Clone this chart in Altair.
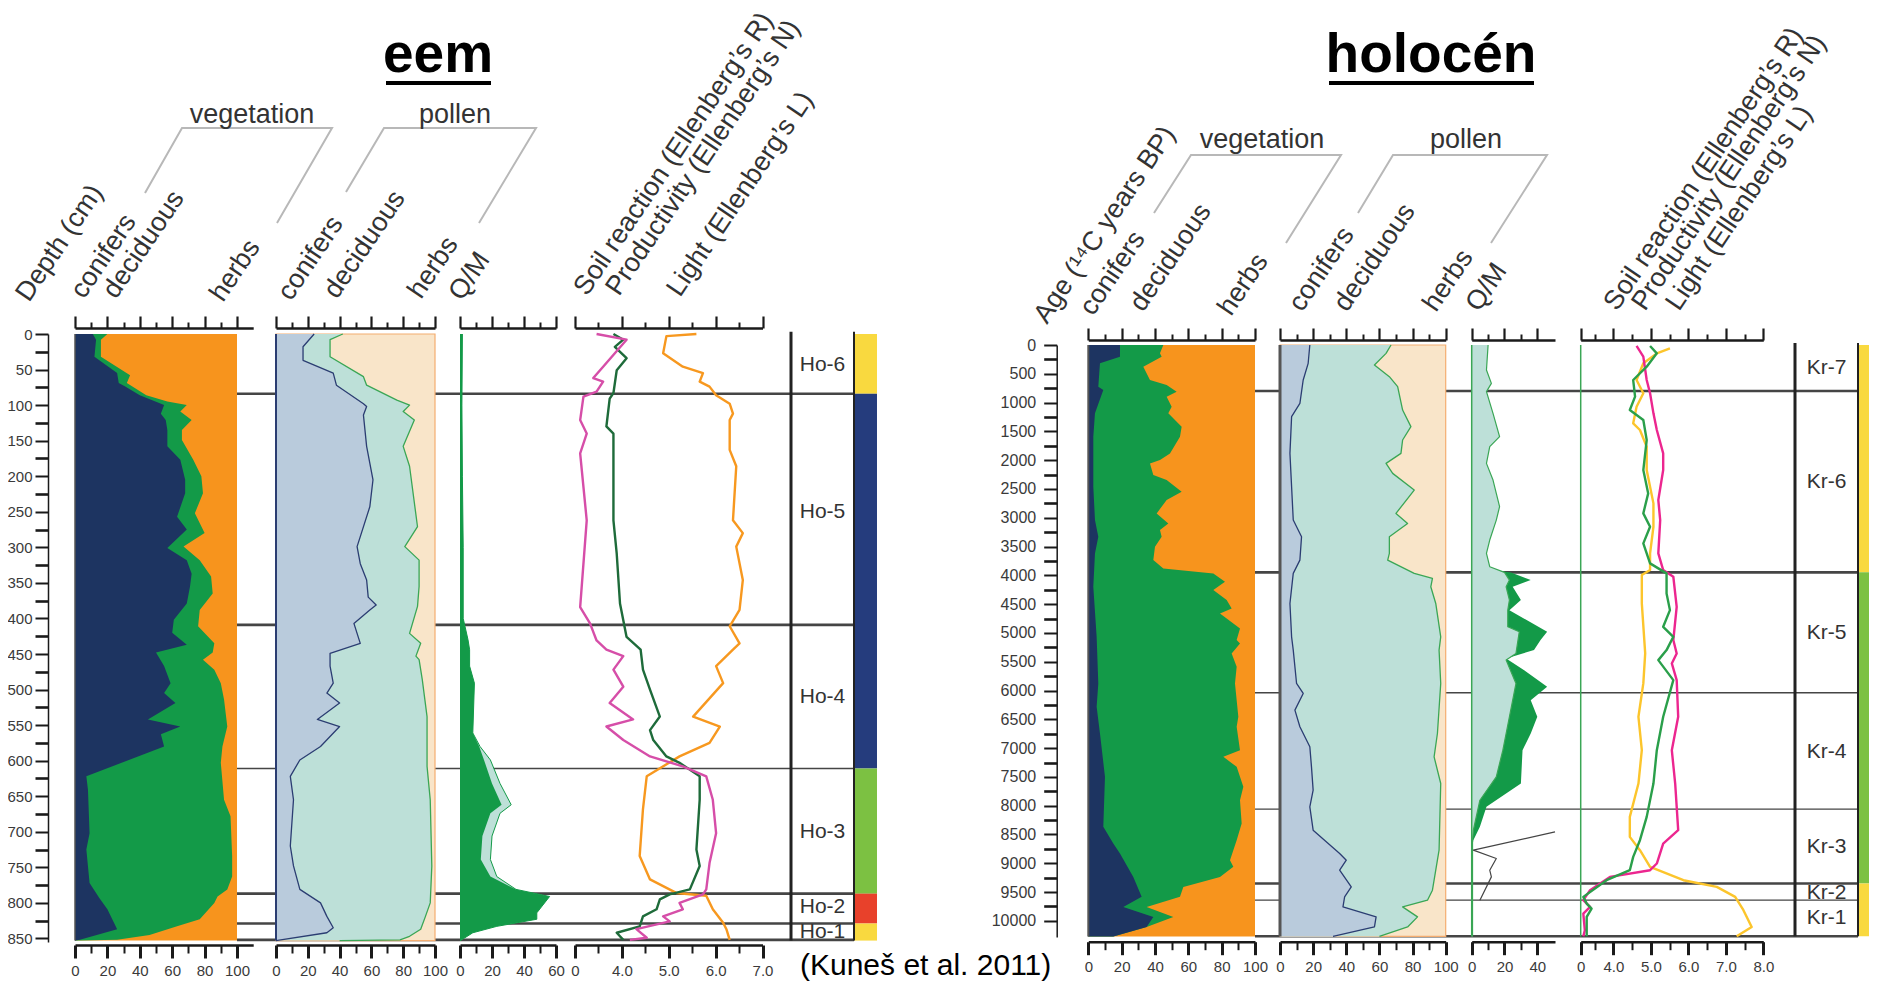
import altair as alt
import pandas as pd

W, H = 1861, 975
FONT = "Liberation Sans"
INK = "#333333"
AXC = "#1a1a1a"

# ======================= EEM (depth, cm) =======================
EEM_VEG_CON_D = [0, 8, 32, 55, 69, 74, 86, 100, 112, 121, 135, 158, 177, 205, 224, 257, 275, 301, 318, 337, 355, 379, 402, 420, 437, 448, 467, 491, 505, 519, 542, 552, 563, 580, 622, 641, 702, 725, 772, 793, 809, 837, 852, 853]
EEM_VEG_CON_V = [11, 13, 12, 26, 27, 31, 40, 55, 53, 56, 57, 57, 65, 68, 68, 63, 69, 57, 69, 72, 71, 69, 61, 60, 69, 50, 55, 59, 55, 62, 45, 65, 53, 55, 7, 8, 9, 7, 9, 15, 20, 26, 3, 0]
EEM_VEG_DEC_D = [0, 8, 32, 58, 69, 86, 95, 100, 109, 121, 135, 149, 177, 200, 224, 252, 280, 299, 318, 341, 365, 388, 411, 435, 448, 458, 472, 491, 514, 552, 580, 603, 655, 678, 734, 763, 781, 791, 800, 823, 833, 845, 852, 853]
EEM_VEG_DEC_V = [20, 16, 16, 34, 32, 44, 57, 69, 65, 72, 66, 66, 73, 78, 79, 74, 80, 67, 77, 84, 85, 77, 76, 86, 85, 79, 86, 90, 92, 94, 91, 90, 92, 96, 97, 97, 94, 88, 86, 77, 63, 46, 26, 3]

EEM_POL_CON_D = [0, 18, 37, 55, 72, 98, 102, 114, 158, 205, 243, 299, 323, 346, 370, 381, 388, 407, 435, 449, 467, 491, 505, 519, 542, 552, 566, 580, 599, 622, 655, 720, 748, 781, 800, 819, 835, 842, 852, 853]
EEM_POL_CON_V = [24, 17, 17, 36, 38, 55, 57, 55, 57, 61, 59, 51, 53, 57, 58, 63, 59, 49, 53, 34, 34, 36, 32, 40, 26, 40, 34, 28, 15, 9, 11, 9, 11, 15, 28, 32, 36, 32, 3, 0]
EEM_POL_DEC_D = [0, 8, 32, 60, 72, 93, 100, 109, 121, 158, 186, 271, 299, 318, 355, 383, 421, 435, 453, 458, 486, 538, 608, 655, 748, 800, 819, 837, 847, 852, 853]
EEM_POL_DEC_V = [42, 34, 34, 55, 57, 76, 84, 80, 87, 80, 84, 89, 81, 90, 90, 89, 84, 91, 88, 90, 92, 95, 95, 97, 98, 97, 94, 91, 84, 78, 40]

EEM_QM_D = [0, 100, 200, 300, 400, 430, 444, 467, 491, 561, 580, 599, 632, 662, 674, 706, 739, 763, 781, 791, 814, 823, 833, 842, 852, 853]
EEM_QM_LIGHT = [1.5, 1.2, 1.5, 2, 2, 5, 6, 6, 9, 8, 12.5, 19, 25, 32, 25, 20, 19, 23, 35, 56, 48, 48, 23, 8, 1, 0]
EEM_QM_DARK = [1.5, 1.2, 1.5, 2, 2, 5, 6, 6, 9, 8, 12, 15, 20, 26, 19, 14, 13, 19, 35, 56, 48, 48, 23, 8, 1, 0]

EEM_R_D = [0, 8, 46, 62, 67, 81, 88, 121, 140, 168, 262, 384, 407, 431, 444, 453, 472, 496, 519, 542, 552, 571, 594, 608, 622, 655, 702, 744, 781, 788, 800, 809, 819, 826, 837, 849, 852]
EEM_R_V = [3.46, 4.10, 3.60, 3.39, 3.60, 3.46, 3.18, 3.11, 3.25, 3.11, 3.25, 3.11, 3.32, 3.46, 3.67, 4.03, 3.82, 4.03, 3.74, 4.24, 3.67, 4.03, 4.60, 5.30, 5.80, 5.94, 6.01, 5.87, 5.80, 5.73, 5.23, 5.30, 4.88, 5.02, 4.31, 4.53, 4.17]
EEM_N_D = [0, 8, 18, 34, 51, 83, 91, 130, 140, 262, 309, 379, 426, 444, 472, 500, 538, 557, 571, 594, 603, 622, 655, 725, 748, 781, 788, 795, 809, 819, 833, 842, 852]
EEM_N_V = [3.82, 4.03, 3.85, 4.10, 3.89, 3.82, 3.74, 3.67, 3.82, 3.82, 3.89, 3.96, 4.10, 4.40, 4.45, 4.60, 4.81, 4.60, 4.67, 4.95, 5.23, 5.66, 5.66, 5.59, 5.66, 5.45, 5.02, 4.81, 4.74, 4.45, 4.38, 3.89, 4.03]
EEM_L_D = [0, 3, 27, 46, 55, 67, 74, 86, 98, 112, 121, 163, 186, 262, 280, 299, 346, 388, 411, 435, 444, 467, 491, 538, 552, 575, 594, 622, 668, 734, 767, 786, 790, 809, 828, 837, 852]
EEM_L_V = [5.59, 4.95, 4.88, 5.30, 5.73, 5.66, 5.87, 6.01, 6.30, 6.37, 6.30, 6.30, 6.44, 6.37, 6.58, 6.44, 6.58, 6.51, 6.30, 6.51, 6.37, 6.01, 6.16, 5.52, 6.09, 5.87, 5.23, 4.53, 4.45, 4.38, 4.60, 5.16, 5.80, 5.94, 6.16, 6.23, 6.30]

EEM_ZONES = ["Ho-6", "Ho-5", "Ho-4", "Ho-3", "Ho-2", "Ho-1"]
EEM_ZONE_MID = [43, 250, 511, 700, 806, 841]
EEM_BOUNDS = [84, 409, 611, 787, 829, 852]
EEM_BAR_TOP = [0, 84, 611, 787, 829]
EEM_BAR_BOT = [84, 611, 787, 829, 853]

# ======================= HOLOCENE (age, 14C yr BP) =======================
HOL_VEG_CON_A = [0, 203, 318, 723, 781, 1187, 1592, 2461, 3040, 3329, 3619, 4198, 5067, 5877, 6283, 6746, 7499, 8367, 8657, 8830, 9236, 9583, 9757, 9931, 10105, 10270]
HOL_VEG_CON_V = [19, 19, 7, 6, 9, 4, 3, 3, 4, 6, 4, 3, 5, 6, 5, 7, 10, 9, 15, 19, 27, 32, 21, 39, 35, 15]
HOL_VEG_DEC_A = [0, 145, 203, 376, 608, 695, 810, 897, 1071, 1187, 1418, 1592, 1882, 1998, 2056, 2258, 2345, 2548, 2692, 2924, 3098, 3214, 3329, 3503, 3735, 3880, 3966, 4111, 4256, 4430, 4574, 4661, 4922, 5124, 5182, 5356, 5588, 5877, 6456, 6630, 7036, 7152, 7325, 7673, 7905, 8310, 8599, 8946, 9062, 9236, 9410, 9583, 9757, 9931, 10105, 10270]
HOL_VEG_DEC_V = [45, 43, 44, 33, 37, 47, 53, 47, 50, 48, 56, 55, 49, 43, 37, 39, 47, 56, 47, 41, 48, 43, 44, 40, 39, 45, 75, 82, 75, 83, 86, 79, 91, 89, 91, 86, 89, 88, 90, 89, 91, 81, 89, 93, 91, 92, 89, 85, 87, 79, 57, 55, 35, 51, 35, 15]

HOL_POL_CON_A = [0, 318, 608, 1013, 1245, 1882, 2461, 3040, 3329, 3735, 3966, 4488, 5067, 5298, 5877, 6051, 6340, 6630, 6977, 7325, 7730, 8020, 8425, 8830, 8946, 9120, 9410, 9583, 9757, 9931, 10105, 10270]
HOL_POL_CON_V = [18, 17, 14, 12, 7, 6, 7, 8, 13, 12, 8, 6, 7, 8, 10, 14, 9, 12, 18, 19, 20, 18, 20, 36, 40, 36, 43, 39, 38, 58, 57, 32]
HOL_POL_DEC_A = [0, 145, 347, 550, 723, 1129, 1418, 1650, 1882, 2056, 2229, 2519, 2924, 3098, 3329, 3619, 3735, 3966, 4053, 4198, 4488, 5067, 5298, 5877, 6746, 7152, 7615, 8772, 9467, 9641, 9757, 9931, 10105, 10270]
HOL_POL_DEC_V = [67, 64, 57, 66, 71, 74, 79, 74, 73, 64, 68, 81, 70, 77, 66, 66, 65, 81, 92, 91, 94, 97, 96, 97, 95, 93, 97, 96, 92, 89, 74, 83, 77, 60]

HOL_QM_LIGHT_A = [0, 434, 666, 810, 1187, 1592, 1766, 2056, 2345, 2577, 2808, 3040, 3387, 3619, 3850, 3949, 4082, 4198, 4430, 4604, 4893, 4980, 5356, 5472, 5877, 6456, 7036, 7499, 7905, 8425, 8600, 10270]
HOL_QM_LIGHT_V = [10, 9, 12, 9, 13, 17, 11, 9, 13, 15, 17, 15, 11, 9, 11, 20, 23, 21, 23, 22, 22, 29, 27, 21, 27, 23, 19, 15, 5, 1, 0.5, 0.5]
HOL_QM_DARK_A = [3900, 3949, 4082, 4198, 4430, 4604, 4980, 5124, 5298, 5443, 5646, 5935, 6167, 6456, 6746, 7036, 7615, 8020, 8367, 8599, 8700]
HOL_QM_DARK_V = [11, 24, 36, 25, 30, 23, 46, 42, 38, 21, 32, 46, 36, 40, 36, 31, 30, 9, 5, 1, 0.5]
HOL_QM_BLACK_A = [8454, 8772, 8917, 9120, 9236, 9641]
HOL_QM_BLACK_V = [50.8, 1, 15, 11, 12, 5]

HOL_R_A = [17, 203, 608, 839, 1187, 1476, 1882, 2171, 2692, 3040, 3619, 3908, 4024, 4546, 5124, 5356, 5530, 5819, 6456, 7036, 7615, 8425, 8657, 9004, 9120, 9236, 9467, 9641, 9757, 9873, 10162, 10267]
HOL_R_V = [4.62, 4.80, 4.89, 4.98, 5.07, 5.16, 5.33, 5.33, 5.20, 5.25, 5.20, 5.33, 5.60, 5.69, 5.60, 5.69, 5.56, 5.69, 5.73, 5.56, 5.65, 5.73, 5.33, 5.16, 4.98, 3.91, 3.38, 3.20, 3.38, 3.20, 3.24, 3.20]
HOL_N_A = [17, 145, 376, 608, 897, 1129, 1303, 1650, 2171, 2577, 2924, 3156, 3445, 3792, 3966, 4314, 4604, 4893, 5067, 5298, 5472, 5819, 6456, 7036, 7615, 8194, 8599, 8888, 9120, 9294, 9583, 9699, 9786, 9931, 10267]
HOL_N_V = [4.98, 5.16, 4.89, 4.53, 4.58, 4.44, 4.80, 4.89, 4.80, 4.93, 4.80, 4.98, 4.80, 4.98, 5.42, 5.42, 5.51, 5.33, 5.60, 5.42, 5.20, 5.60, 5.33, 5.16, 5.07, 4.89, 4.71, 4.53, 4.44, 3.82, 3.20, 3.29, 3.42, 3.29, 3.29]
HOL_L_A = [58, 145, 318, 608, 839, 1071, 1360, 1476, 1766, 2171, 2750, 3156, 3619, 3908, 3995, 4488, 5356, 5877, 6456, 7036, 7615, 8194, 8541, 8772, 9062, 9294, 9410, 9583, 9815, 10105, 10267]
HOL_L_V = [5.51, 5.16, 4.80, 4.62, 4.80, 4.62, 4.53, 4.71, 4.89, 4.89, 5.07, 5.07, 4.98, 4.98, 4.76, 4.76, 4.85, 4.80, 4.67, 4.76, 4.67, 4.44, 4.44, 4.71, 4.98, 5.87, 6.76, 7.25, 7.47, 7.69, 7.29]

HOL_ZONES = ["Kr-7", "Kr-6", "Kr-5", "Kr-4", "Kr-3", "Kr-2", "Kr-1"]
HOL_ZONE_MID = [400, 2380, 5003, 7064, 8714, 9513, 9958]
HOL_BOUNDS = [799, 3948, 6039, 8060, 9351, 9641, 10267]
HOL_BAR_TOP = [0, 3948, 9351]
HOL_BAR_BOT = [3948, 9351, 10267]

# ======================= labels =======================
HEAD_E = ["Depth (cm)", "conifers", "deciduous", "herbs", "conifers", "deciduous", "herbs", "Q/M",
          "Soil reaction (Ellenberg’s R)", "Productivity (Ellenberg’s N)", "Light (Ellenberg’s L)"]
HEAD_H = ["Age (¹⁴C years BP)", "conifers", "deciduous", "herbs", "conifers", "deciduous", "herbs", "Q/M",
          "Soil reaction (Ellenberg’s R)", "Productivity (Ellenberg’s N)", "Light (Ellenberg’s L)"]
GROUPS = ["vegetation", "pollen"]
TITLES = ["eem", "holocén"]
CITE = "(Kuneš et al. 2011)"

# ======================= layout / style =======================
EEM_BOUND_W = [2.6, 2.6, 1.3, 2.6, 2.6, 2.6]
HOL_BOUND_W = [2.6, 2.6, 1.3, 1.3, 2.6, 1.3, 2.6]
EEM_BAR_COL = ["#f9d93f", "#253c7d", "#7cc142", "#e8412b", "#f9d93f"]
HOL_BAR_COL = ["#f9d93f", "#7cc142", "#f9d93f"]

HEAD_E_X = [21, 76, 108, 215, 283, 329, 413, 454, 579, 611, 672]
HEAD_E_Y = [295, 292, 292, 295, 294, 292, 292, 294, 289, 289, 290]
HEAD_H_X = [1039, 1085, 1135, 1223, 1294, 1339, 1428, 1471, 1609, 1637, 1671]
HEAD_H_Y = [317, 309, 305, 309, 305, 305, 305, 305, 304, 304, 304]
GROUP_E_X, GROUP_E_Y = [244, 447], [115, 115]
GROUP_H_X, GROUP_H_Y = [1254, 1458], [140, 140]
BR_ID = ["a"] * 4 + ["b"] * 4 + ["c"] * 4 + ["d"] * 4
BR_X = [137, 174, 324, 269, 338, 376, 528, 471, 1146, 1183, 1333, 1278, 1350, 1385, 1539, 1483]
BR_Y = [185, 120, 120, 215, 184, 120, 120, 215, 205, 147, 147, 235, 205, 147, 147, 235]


def S(domain, rng):
    return alt.Scale(domain=list(domain), range=list(rng), nice=False, zero=False)


Y_E = S([0, 855], [326, 934])
Y_H = S([0, 10280], [337, 929])
XE_VEG = S([0, 110], [67, 245.2])
XE_POL = S([0, 100], [268, 427])
XE_QM = S([0, 60], [452, 548])
XE_ELL = S([3, 7], [567, 754.5])
XE_ZON = S([0, 1], [783, 846])
XE_LIN = S([0, 1], [229, 846])
XH_VEG = S([0, 100], [1080.3, 1247])
XH_POL = S([0, 100], [1272, 1437.7])
XH_QM = S([0, 50.8], [1463.7, 1547])
XH_ELL = S([3.13, 8], [1572.7, 1755.3])
XH_ZON = S([0, 1], [1787, 1850])
XH_LIN = S([0, 1], [1247, 1850])

E_BOT = 937 - H
H_BOT = 933.7 - H


def area(d, v, xs, ys, color):
    df = pd.DataFrame({"d": d, "v": v, "z": [0] * len(d)})
    return alt.Chart(df).mark_area(color=color, orient="horizontal").encode(
        y=alt.Y("d:Q", scale=ys, axis=None),
        x=alt.X("v:Q", scale=xs, axis=None),
        x2=alt.X2("z:Q"))


def curve(d, v, xs, ys, color, width):
    df = pd.DataFrame({"d": d, "v": v})
    return alt.Chart(df).mark_line(color=color, strokeWidth=width, strokeJoin="round").encode(
        y=alt.Y("d:Q", scale=ys, axis=None),
        x=alt.X("v:Q", scale=xs, axis=None),
        order=alt.Order("d:Q"))


def box(x1, x2, y1, y2, colors, xs, ys, **kw):
    df = pd.DataFrame({"a": x1, "b": x2, "t": y1, "u": y2, "c": colors})
    return alt.Chart(df).mark_rect(**kw).encode(
        x=alt.X("a:Q", scale=xs, axis=None), x2="b:Q",
        y=alt.Y("t:Q", scale=ys, axis=None), y2="u:Q",
        color=alt.Color("c:N", scale=None))


def hrules(depths, widths, xs, ys, color="#454545"):
    df = pd.DataFrame({"d": depths, "w": widths, "a": [0] * len(depths), "b": [1] * len(depths)})
    return alt.Chart(df).mark_rule(color=color).encode(
        x=alt.X("a:Q", scale=xs, axis=None), x2="b:Q",
        y=alt.Y("d:Q", scale=ys, axis=None),
        strokeWidth=alt.StrokeWidth("w:Q", scale=None))


def vrule(xv, y1, y2, xs, ys, color, width):
    df = pd.DataFrame({"x": [xv], "t": [y1], "u": [y2]})
    return alt.Chart(df).mark_rule(color=color, strokeWidth=width).encode(
        x=alt.X("x:Q", scale=xs, axis=None),
        y=alt.Y("t:Q", scale=ys, axis=None), y2="u:Q")


def zone_labels(names, mids, xs, ys):
    df = pd.DataFrame({"n": names, "d": mids, "x": [0.5] * len(names)})
    return alt.Chart(df).mark_text(font=FONT, fontSize=21, color=INK, align="center", baseline="middle").encode(
        x=alt.X("x:Q", scale=xs, axis=None), y=alt.Y("d:Q", scale=ys, axis=None), text="n:N")


def axis_props(orient, offset, values, size, width, labels, domain, expr, dwidth, lsize, pad, fmt=None):
    p = dict(orient=orient, offset=offset, values=values, tickSize=size, tickWidth=width,
             tickColor=AXC, domain=domain, domainColor=AXC, domainWidth=dwidth, labels=labels,
             grid=False, title=None, labelFont=FONT, labelFontSize=lsize, labelColor="#3a3a3a",
             labelPadding=pad, labelFlush=False, labelOverlap=False, ticks=True)
    if expr:
        p["labelExpr"] = expr
    if fmt:
        p["format"] = fmt
    return alt.Axis(**p)


def xaxis(xs, orient, offset, values, size, width, labels=False, domain=True, expr=None):
    df = pd.DataFrame({"v": [values[0]]})
    return alt.Chart(df).mark_point(opacity=0).encode(
        x=alt.X("v:Q", scale=xs, axis=axis_props(orient, offset, values, size, width, labels, domain, expr, 2.5, 15, 5)),
        y=alt.value(0))


def yaxis(ys, offset, values, size, width, labels=False, domain=True, lsize=15, pad=4):
    df = pd.DataFrame({"v": [values[0]]})
    return alt.Chart(df).mark_point(opacity=0).encode(
        y=alt.Y("v:Q", scale=ys, axis=axis_props("left", offset, values, size, width, labels, domain, None, 1.5, lsize, pad, "d")),
        x=alt.value(0))


def texts(txt, xv, yv, angle=0, size=27, color=INK, align="left", weight="normal"):
    df = pd.DataFrame({"t": txt, "x": xv, "y": yv})
    return alt.Chart(df).mark_text(angle=angle, fontSize=size, font=FONT, color=color, align=align,
                                   baseline="alphabetic", fontWeight=weight).encode(
        x=alt.X("x:Q", scale=None, axis=None), y=alt.Y("y:Q", scale=None, axis=None), text="t:N")


def panel_axes(xs, top_off, bot_off, major, minor, expr=None):
    return [
        xaxis(xs, "top", top_off, major, 12, 2.2),
        xaxis(xs, "top", top_off, minor, 6, 2, domain=False),
        xaxis(xs, "bottom", bot_off, major, 13, 3, labels=True, expr=expr),
        xaxis(xs, "bottom", bot_off, minor, 8, 2, domain=False),
    ]


NAVY, GREEN, ORANGE = "#1d3461", "#139a48", "#f7941d"
PEACH, TEAL, BLUEGRAY = "#f9e5c9", "#bde0d8", "#b9cbdc"
PLINE_G, PLINE_B = "#3aa655", "#2b3d72"

layers = []
# zone horizontal lines (behind the filled panels)
layers += [hrules(EEM_BOUNDS, EEM_BOUND_W, XE_LIN, Y_E), hrules(HOL_BOUNDS, HOL_BOUND_W, XH_LIN, Y_H)]

# ---- EEM panels ----
layers += [
    box([0], [100], [0], [853], [ORANGE], XE_VEG, Y_E),
    area(EEM_VEG_DEC_D, EEM_VEG_DEC_V, XE_VEG, Y_E, GREEN),
    area(EEM_VEG_CON_D, EEM_VEG_CON_V, XE_VEG, Y_E, NAVY),
    vrule(0, 0, 853, XE_VEG, Y_E, "#555555", 1.5),
    box([0], [100], [0], [853], [PEACH], XE_POL, Y_E, stroke="#f4ad70", strokeWidth=1.2),
    area(EEM_POL_DEC_D, EEM_POL_DEC_V, XE_POL, Y_E, TEAL),
    curve(EEM_POL_DEC_D, EEM_POL_DEC_V, XE_POL, Y_E, PLINE_G, 1.3),
    area(EEM_POL_CON_D, EEM_POL_CON_V, XE_POL, Y_E, BLUEGRAY),
    curve(EEM_POL_CON_D, EEM_POL_CON_V, XE_POL, Y_E, PLINE_B, 1.3),
    vrule(0, 0, 853, XE_POL, Y_E, PLINE_B, 2),
    area(EEM_QM_D, EEM_QM_LIGHT, XE_QM, Y_E, TEAL),
    area(EEM_QM_D, EEM_QM_DARK, XE_QM, Y_E, GREEN),
    curve(EEM_QM_D, EEM_QM_LIGHT, XE_QM, Y_E, GREEN, 1),
    curve(EEM_L_D, EEM_L_V, XE_ELL, Y_E, "#f7981f", 2.4),
    curve(EEM_N_D, EEM_N_V, XE_ELL, Y_E, "#1e6b3a", 2.4),
    curve(EEM_R_D, EEM_R_V, XE_ELL, Y_E, "#d64ea8", 2.4),
    box([1] * 5, [1.365] * 5, EEM_BAR_TOP, EEM_BAR_BOT, EEM_BAR_COL, XE_ZON, Y_E),
    vrule(0, -3, 853, XE_ZON, Y_E, "#222222", 3),
    vrule(1, -3, 853, XE_ZON, Y_E, "#222222", 2),
    zone_labels(EEM_ZONES, EEM_ZONE_MID, XE_ZON, Y_E),
]

# ---- HOLOCENE panels ----
layers += [
    box([0], [100], [0], [10270], [ORANGE], XH_VEG, Y_H),
    area(HOL_VEG_DEC_A, HOL_VEG_DEC_V, XH_VEG, Y_H, GREEN),
    area(HOL_VEG_CON_A, HOL_VEG_CON_V, XH_VEG, Y_H, NAVY),
    vrule(0, 0, 10270, XH_VEG, Y_H, "#555555", 2),
    box([0], [100], [0], [10270], [PEACH], XH_POL, Y_H, stroke="#f4ad70", strokeWidth=1.2),
    area(HOL_POL_DEC_A, HOL_POL_DEC_V, XH_POL, Y_H, TEAL),
    curve(HOL_POL_DEC_A, HOL_POL_DEC_V, XH_POL, Y_H, PLINE_G, 1.3),
    area(HOL_POL_CON_A, HOL_POL_CON_V, XH_POL, Y_H, BLUEGRAY),
    curve(HOL_POL_CON_A, HOL_POL_CON_V, XH_POL, Y_H, PLINE_B, 1.3),
    vrule(0, 0, 10270, XH_POL, Y_H, "#555555", 3),
    area(HOL_QM_DARK_A, HOL_QM_DARK_V, XH_QM, Y_H, GREEN),
    area(HOL_QM_LIGHT_A, HOL_QM_LIGHT_V, XH_QM, Y_H, TEAL),
    curve(HOL_QM_LIGHT_A, HOL_QM_LIGHT_V, XH_QM, Y_H, PLINE_G, 1.2),
    curve(HOL_QM_BLACK_A, HOL_QM_BLACK_V, XH_QM, Y_H, "#444444", 1.2),
    vrule(0, 0, 10270, XH_QM, Y_H, PLINE_G, 1.5),
    vrule(3.13, 0, 10270, XH_ELL, Y_H, PLINE_G, 1.5),
    curve(HOL_L_A, HOL_L_V, XH_ELL, Y_H, "#fcc52c", 2.4),
    curve(HOL_R_A, HOL_R_V, XH_ELL, Y_H, "#ec268f", 2.4),
    curve(HOL_N_A, HOL_N_V, XH_ELL, Y_H, "#2a9f4a", 2.4),
    box([1] * 3, [1.3] * 3, HOL_BAR_TOP, HOL_BAR_BOT, HOL_BAR_COL, XH_ZON, Y_H),
    vrule(0, -35, 10267, XH_ZON, Y_H, "#222222", 3),
    vrule(1, -35, 10267, XH_ZON, Y_H, "#222222", 2),
    zone_labels(HOL_ZONES, HOL_ZONE_MID, XH_ZON, Y_H),
]

# ---- axes ----
ELL_EXPR = "datum.value < 3.5 ? '0' : format(datum.value, '.1f')"
layers += [
    yaxis(Y_E, -40, list(range(0, 851, 50)), 13, 2, labels=True, pad=3),
    yaxis(Y_E, -40, list(range(25, 851, 50)), 13, 2.6, domain=False),
    yaxis(Y_H, -1048.7, list(range(0, 10001, 500)), 13, 2, labels=True, lsize=16, pad=8),
    yaxis(Y_H, -1048.7, list(range(250, 10001, 500)), 13, 2.6, domain=False),
]
layers += panel_axes(XE_VEG, -320, E_BOT, [0, 20, 40, 60, 80, 100], [10, 30, 50, 70, 90])
layers += panel_axes(XE_POL, -320, E_BOT, [0, 20, 40, 60, 80, 100], [10, 30, 50, 70, 90])
layers += panel_axes(XE_QM, -320, E_BOT, [0, 20, 40, 60], [10, 30, 50])
layers += panel_axes(XE_ELL, -320, E_BOT, [3, 4, 5, 6, 7], [3.5, 4.5, 5.5, 6.5], expr=ELL_EXPR)
layers += panel_axes(XH_VEG, -332, H_BOT, [0, 20, 40, 60, 80, 100], [10, 30, 50, 70, 90])
layers += panel_axes(XH_POL, -332, H_BOT, [0, 20, 40, 60, 80, 100], [10, 30, 50, 70, 90])
layers += panel_axes(XH_QM, -332, H_BOT, [0, 20, 40], [10, 30])
layers += panel_axes(XH_ELL, -332, H_BOT, [3.13, 4, 5, 6, 7, 8], [3.5, 4.5, 5.5, 6.5, 7.5], expr=ELL_EXPR)

# ---- headers, titles ----
br_df = pd.DataFrame({"g": BR_ID, "i": list(range(len(BR_ID))), "x": BR_X, "y": BR_Y})
layers += [
    alt.Chart(br_df).mark_line(color="#b8b8b8", strokeWidth=2).encode(
        x=alt.X("x:Q", scale=None, axis=None), y=alt.Y("y:Q", scale=None, axis=None),
        detail="g:N", order="i:Q"),
    texts(HEAD_E, HEAD_E_X, HEAD_E_Y, angle=304),
    texts(HEAD_H, HEAD_H_X, HEAD_H_Y, angle=304),
    texts(GROUPS, GROUP_E_X, GROUP_E_Y, align="center"),
    texts(GROUPS, GROUP_H_X, GROUP_H_Y, align="center"),
    texts(TITLES, [430, 1423], [64, 64], size=55, color="#000000", align="center", weight="bold"),
    alt.Chart(pd.DataFrame({"x": [378, 1321], "x2": [483, 1526], "y": [75, 75]})).mark_rule(
        color="#000000", strokeWidth=4).encode(
        x=alt.X("x:Q", scale=None, axis=None), x2="x2:Q", y=alt.Y("y:Q", scale=None, axis=None)),
    texts([CITE], [792], [967], size=30, color="#000000"),
]

chart = alt.layer(*layers).resolve_scale(
    x="independent", y="independent"
).resolve_axis(
    x="independent", y="independent"
).properties(
    width=W, height=H, autosize=alt.AutoSizeParams(type="none"), padding=0
).configure(font=FONT).configure_view(stroke=None)

chart.save("out.html", embed_options={"renderer": "svg", "actions": False})
